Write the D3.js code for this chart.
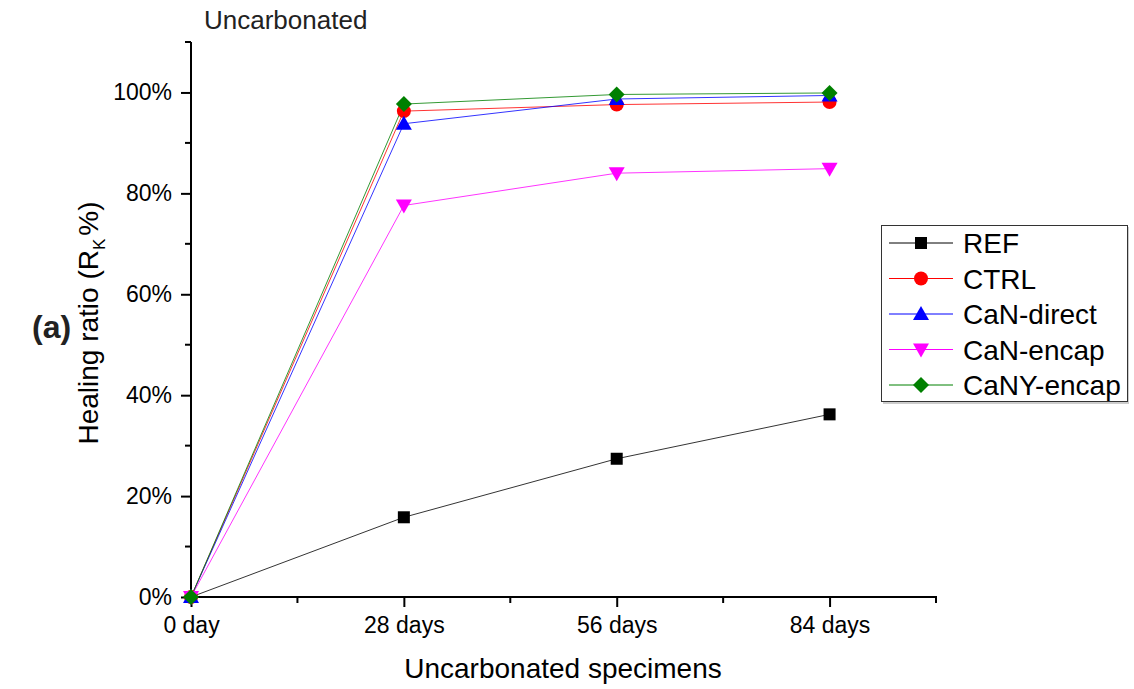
<!DOCTYPE html>
<html><head><meta charset="utf-8">
<script src="https://cdn.jsdelivr.net/npm/d3@7"></script>
<style>body{margin:0;background:#fff}svg{display:block;font-family:"Liberation Sans",Arial,sans-serif}</style>
</head><body><svg id="c" width="1134" height="689"></svg>
<script>
const categories = ["0 day","28 days","56 days","84 days"];
const days = [0,28,56,84];
const seriesNames = ["REF","CTRL","CaN-direct","CaN-encap","CaNY-encap"];
const REF = [0,15.8,27.4,36.2];
const CTRL = [0,96.3,97.6,98.1];
const CaNdirect = [0,93.8,98.7,99.4];
const CaNencap = [0,77.6,84.0,84.9];
const CaNYencap = [0,97.7,99.6,99.9];
const yTicks = [0,20,40,60,80,100];
const colors = ["#000000","#ff0000","#0000ff","#ff00ff","#008000"];
const symbols = ["square","circle","triangle","triangleDown","diamond"];
const seriesVals = [REF,CTRL,CaNdirect,CaNencap,CaNYencap];

const svg = d3.select("#c");
const x = d3.scaleLinear().domain([0,98]).range([191,936]);
const y = d3.scaleLinear().domain([0,110]).range([597,42]);

function sym(g, type, color, cx, cy){
  let p;
  if(type==="square") p = g.append("rect").attr("x",cx-6).attr("y",cy-6).attr("width",12).attr("height",12);
  else if(type==="circle") p = g.append("circle").attr("cx",cx).attr("cy",cy).attr("r",7);
  else if(type==="triangle") p = g.append("path").attr("d",`M${cx},${cy-8}L${cx+8},${cy+6}L${cx-8},${cy+6}Z`);
  else if(type==="triangleDown") p = g.append("path").attr("d",`M${cx},${cy+8}L${cx+8},${cy-6}L${cx-8},${cy-6}Z`);
  else p = g.append("path").attr("d",`M${cx},${cy-8}L${cx+8},${cy}L${cx},${cy+8}L${cx-8},${cy}Z`);
  p.attr("fill",color);
}

// axes
const xAxis = d3.axisBottom(x).tickValues(days).tickFormat((d,i)=>categories[i]).tickSize(10).tickPadding(10);
const gx = svg.append("g").attr("transform","translate(0,597)").call(xAxis);
gx.select(".domain").attr("stroke-width",2).attr("d","M190,0H937");
gx.selectAll(".tick line").attr("stroke-width",2);
gx.selectAll(".tick text").attr("font-size",23).attr("fill","#000").attr("font-family","Liberation Sans, Arial");
const xMinor = [14,42,70,98];
gx.selectAll(".mx").data(xMinor).enter().append("line").attr("x1",d=>x(d)).attr("x2",d=>x(d)).attr("y1",0).attr("y2",6).attr("stroke","#000").attr("stroke-width",2);

const yAxis = d3.axisLeft(y).tickValues(yTicks).tickFormat(d=>d+"%").tickSize(10).tickPadding(9);
const gy = svg.append("g").attr("transform","translate(191,0)").call(yAxis);
gy.select(".domain").attr("stroke-width",2).attr("d","M0,598V42");
gy.selectAll(".tick line").attr("stroke-width",2);
gy.selectAll(".tick text").attr("font-size",23).attr("fill","#000").attr("font-family","Liberation Sans, Arial");
const yMinor = [10,30,50,70,90,110];
gy.selectAll(".my").data(yMinor).enter().append("line").attr("x1",0).attr("x2",-6).attr("y1",d=>y(d)).attr("y2",d=>y(d)).attr("stroke","#000").attr("stroke-width",2);

// lines and markers
const line = d3.line().x((d,i)=>x(days[i])).y(d=>y(d));
seriesVals.forEach((vals,k)=>{
  svg.append("path").attr("d",line(vals)).attr("fill","none").attr("stroke",colors[k]).attr("stroke-width",1).attr("opacity",0.8);
});
seriesVals.forEach((vals,k)=>{
  const g = svg.append("g");
  vals.forEach((v,i)=>sym(g,symbols[k],colors[k],x(days[i]),y(v)));
});

// titles
svg.append("text").attr("x",204).attr("y",29).attr("font-size",26).attr("fill","#222").text("Uncarbonated");
svg.append("text").attr("x",563).attr("y",678).attr("text-anchor","middle").attr("font-size",28).text("Uncarbonated specimens");
const yl = svg.append("text").attr("transform","translate(98,323) rotate(-90)").attr("text-anchor","middle").attr("font-size",28);
yl.append("tspan").text("Healing ratio (R");
yl.append("tspan").attr("font-size",17).attr("dy",7).text("K");
yl.append("tspan").attr("dy",-7).attr("dx",3).text("%)");
svg.append("text").attr("x",32).attr("y",338).attr("font-size",32).attr("font-weight","bold").attr("fill","#222").text("(a)");

// legend
const lg = svg.append("g");
lg.append("rect").attr("x",883).attr("y",227).attr("width",246).attr("height",177).attr("fill","#ccc");
lg.append("rect").attr("x",881.5).attr("y",225.5).attr("width",246).attr("height",176).attr("fill","#fff").attr("stroke","#333").attr("stroke-width",1);
seriesNames.forEach((n,k)=>{
  const ly = 243 + k*35.5;
  lg.append("line").attr("x1",889).attr("x2",953).attr("y1",ly).attr("y2",ly).attr("stroke",colors[k]).attr("stroke-width",1);
  sym(lg,symbols[k],colors[k],921,ly);
  lg.append("text").attr("x",963).attr("y",ly+10).attr("font-size",28).text(n);
});
</script></body></html>
